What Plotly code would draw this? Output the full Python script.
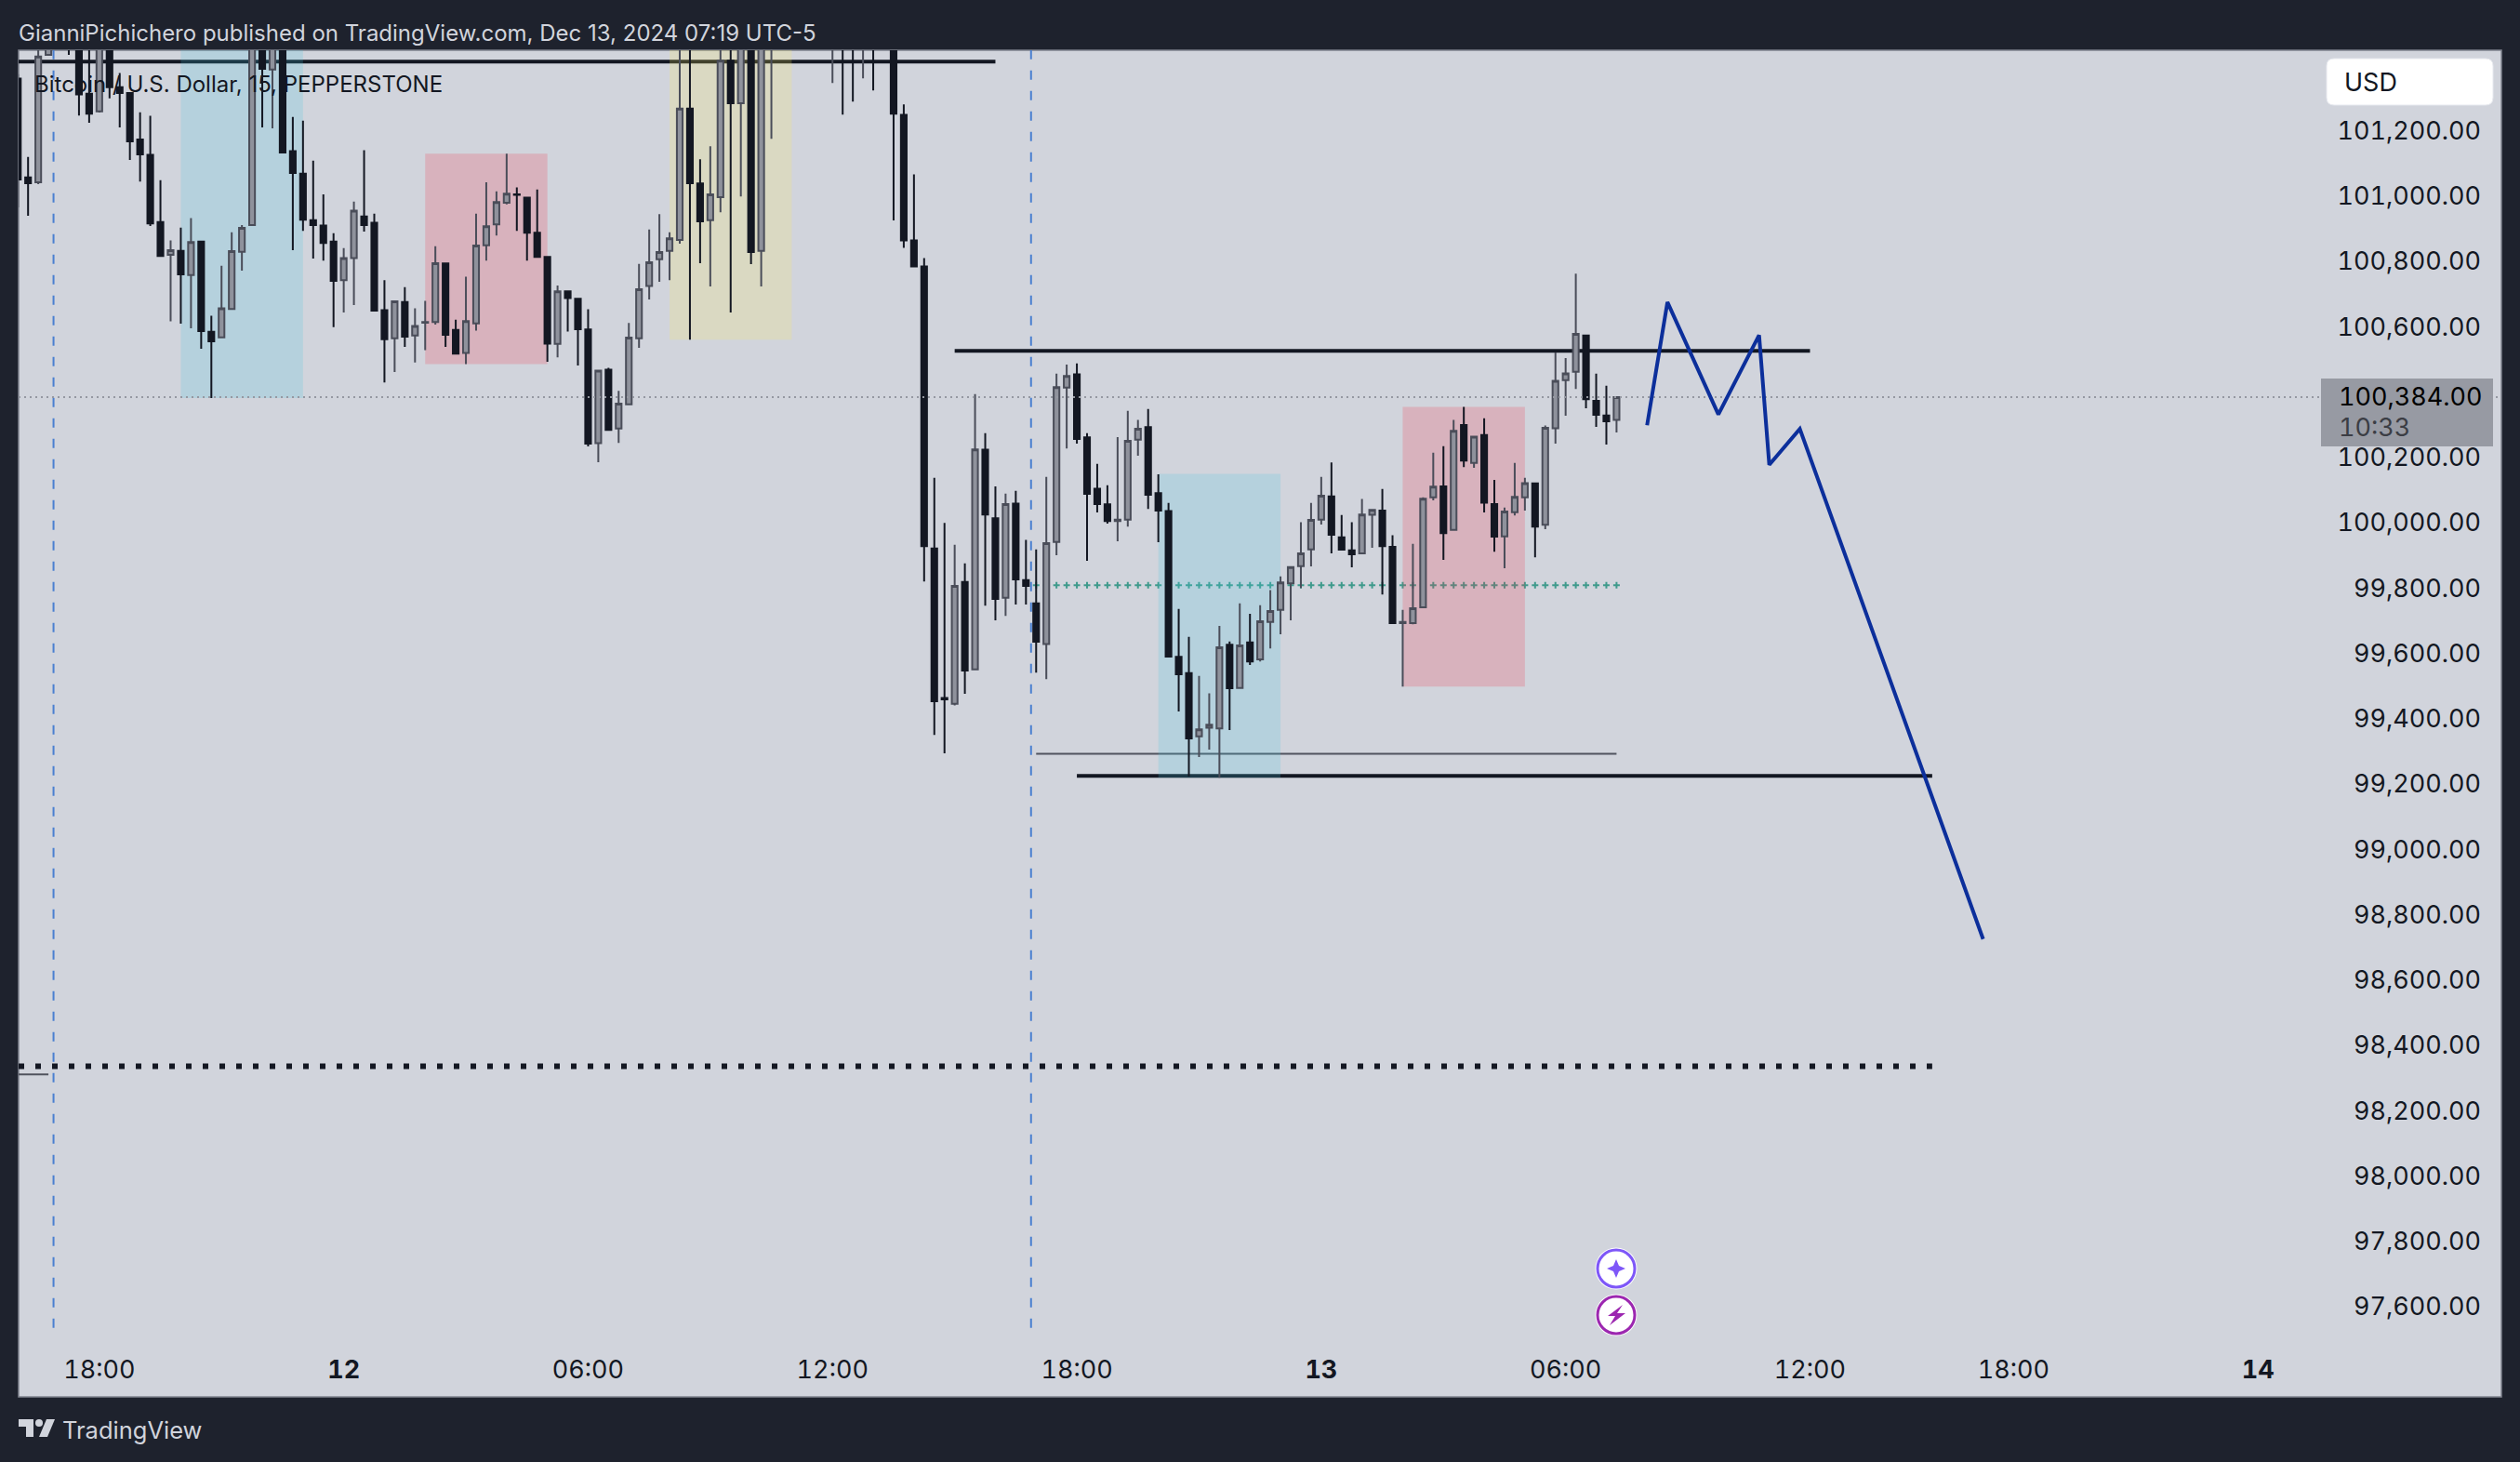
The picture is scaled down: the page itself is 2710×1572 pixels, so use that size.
import pandas as pd
import plotly.graph_objects as go

# 15 minute BTCUSD candles, first bar is Dec 11 16:00 (bars past the top of the pane are estimates)
open_ = [101359, 101057, 101042, 101432, 101600, 101540, 101520, 101313, 101259, 101500, 101333, 101315,
         101173, 101126, 100920, 100820, 100832, 100758, 100860, 100584, 100567, 100654, 100829, 100911,
         101520, 101387, 101510, 101137, 101068, 100926, 100909, 100860, 100742, 100810, 100937, 100918,
         100650, 100564, 100675, 100573, 100612, 100614, 100793, 100590, 100519, 100610, 100849, 100913,
         100979, 101005, 100995, 100887, 100813, 100547, 100708, 100685, 100591, 100243, 100468, 100288,
         100362, 100564, 100724, 100806, 100832, 100865, 101267, 101038, 100926, 100996, 101414, 101284,
         101520, 100832, 101500, 101600, 101640, 101600, 101660, 101620, 101500, 101580, 101480, 101460,
         101540, 101520, 101480, 101248, 100864, 100784, 99921, 99463, 99445, 99818, 99551, 100223,
         100013, 99770, 100058, 99824, 99753, 99628, 99941, 100413, 100454, 100261, 100104, 100056,
         100005, 100009, 100254, 100292, 100090, 100035, 99589, 99539, 99346, 99372, 99370, 99626,
         99494, 99633, 99581, 99696, 99733, 99814, 99867, 99918, 100009, 100080, 99955, 99915,
         99906, 100024, 100037, 99926, 99692, 99692, 99741, 100077, 100111, 99978, 100299, 100183,
         100268, 100057, 99958, 100032, 100077, 100120, 99993, 100289, 100436, 100462, 100573, 100373,
         100328, 100314]
high = [101373, 101119, 101470, 101560, 101640, 101580, 101560, 101470, 101520, 101540, 101376, 101316,
        101256, 101245, 101048, 100864, 100903, 100932, 100861, 100633, 100786, 100889, 100911, 101560,
        101560, 101560, 101540, 101242, 101230, 101108, 101005, 100886, 100840, 100983, 101140, 100946,
        100742, 100677, 100721, 100656, 100679, 100846, 100796, 100621, 100753, 100946, 101042, 101014,
        101129, 101026, 100996, 101020, 100814, 100726, 100709, 100686, 100653, 100468, 100474, 100403,
        100611, 100792, 100897, 100944, 100889, 101500, 101500, 101112, 101152, 101500, 101500, 101560,
        101560, 101600, 101620, 101680, 101700, 101720, 101760, 101700, 101640, 101640, 101600, 101560,
        101600, 101560, 101540, 101280, 101066, 100810, 100137, 99999, 99932, 99875, 100393, 100274,
        100111, 100089, 100097, 99947, 99918, 100140, 100456, 100484, 100487, 100274, 100180, 100114,
        100262, 100342, 100314, 100348, 100148, 100060, 99736, 99650, 99531, 99477, 99684, 99636,
        99753, 99721, 99747, 99793, 99835, 99867, 100001, 100060, 100140, 100184, 100023, 100001,
        100072, 100039, 100103, 99961, 99733, 99935, 100077, 100214, 100234, 100314, 100354, 100264,
        100319, 100131, 100046, 100183, 100137, 100123, 100297, 100521, 100504, 100762, 100574, 100456,
        100419, 100384]
low = [100965, 100939, 101036, 101430, 101520, 101432, 101246, 101224, 101255, 101299, 101210, 101110,
       101044, 100908, 100813, 100616, 100609, 100595, 100532, 100381, 100566, 100651, 100771, 100908,
       101210, 101207, 101130, 100834, 100893, 100808, 100802, 100598, 100643, 100666, 100891, 100648,
       100429, 100461, 100538, 100490, 100528, 100606, 100538, 100514, 100485, 100588, 100802, 100879,
       100974, 100893, 100802, 100813, 100492, 100506, 100585, 100481, 100233, 100185, 100284, 100244,
       100361, 100535, 100683, 100737, 100742, 100854, 100560, 100794, 100723, 100950, 100643, 100998,
       100791, 100723, 101175, 101520, 101560, 101540, 101600, 101500, 101346, 101249, 101289, 101360,
       101323, 101450, 100925, 100841, 100783, 99820, 99350, 99294, 99440, 99476, 99550, 99746,
       99701, 99714, 99749, 99749, 99541, 99521, 99900, 100227, 100242, 99883, 100031, 99997,
       99943, 99988, 100205, 100042, 99940, 99589, 99422, 99223, 99282, 99305, 99219, 99365,
       99493, 99564, 99575, 99615, 99658, 99701, 99800, 99866, 99994, 99906, 99917, 99863,
       99905, 99923, 99780, 99692, 99498, 99689, 99740, 100068, 99886, 99977, 100170, 100168,
       100031, 99911, 99860, 100022, 100037, 99894, 99980, 100242, 100327, 100409, 100350, 100293,
       100239, 100276]
close = [101050, 101039, 101427, 101520, 101530, 101460, 101311, 101252, 101500, 101333, 101315, 101167,
         101127, 100916, 100816, 100834, 100760, 100859, 100586, 100555, 100656, 100831, 100902, 101520,
         101389, 101500, 101133, 101070, 100927, 100911, 100856, 100740, 100810, 100955, 100911, 100649,
         100561, 100677, 100569, 100602, 100614, 100794, 100575, 100517, 100617, 100848, 100907, 100981,
         101007, 101003, 100887, 100813, 100548, 100708, 100687, 100592, 100242, 100465, 100284, 100364,
         100566, 100714, 100797, 100828, 100870, 101267, 101039, 100922, 101005, 101414, 101284, 101500,
         100828, 101500, 101580, 101640, 101600, 101660, 101620, 101560, 101580, 101480, 101460, 101540,
         101470, 101480, 101252, 100864, 100784, 99928, 99453, 99459, 99806, 99547, 100224, 100025,
         99766, 100057, 99826, 99806, 99635, 99937, 100415, 100449, 100256, 100088, 100057, 100005,
         100009, 100250, 100287, 100085, 100037, 99590, 99536, 99339, 99367, 99381, 99618, 99493,
         99624, 99575, 99698, 99729, 99817, 99864, 99906, 100008, 100082, 99963, 99917, 99903,
         100025, 100039, 99928, 99692, 99696, 99738, 100073, 100110, 99968, 100281, 100190, 100263,
         100061, 99957, 100034, 100079, 100121, 99988, 100290, 100434, 100457, 100578, 100378, 100330,
         100310, 100384]
times = pd.date_range("2024-12-11 16:00", periods=len(open_), freq="15min")

# axis ticks (the last two sit where TradingView put them on its future scale)
price_ticks = [101200, 101000, 100800, 100600, 100200, 100000, 99800, 99600, 99400, 99200, 99000,
               98800, 98600, 98400, 98200, 98000, 97800, 97600]
time_ticks = ["2024-12-11 18:00", "2024-12-12 00:00", "2024-12-12 06:00", "2024-12-12 12:00",
              "2024-12-12 18:00", "2024-12-13 00:00", "2024-12-13 06:00", "2024-12-13 12:00",
              "2024-12-13 17:00", "2024-12-13 23:00"]
time_labels = ["18:00", "<b>12</b>", "06:00", "12:00", "18:00", "<b>13</b>", "06:00", "12:00", "18:00", "<b>14</b>"]

# session boxes: start, end, low, high, colour
zone_start = ["2024-12-11 20:00", "2024-12-12 02:00", "2024-12-12 08:00", "2024-12-12 20:00", "2024-12-13 02:00"]
zone_end = ["2024-12-11 23:00", "2024-12-12 05:00", "2024-12-12 11:00", "2024-12-12 23:00", "2024-12-13 05:00"]
zone_low = [100381, 100485, 100560, 99219, 99498]
zone_high = [101700, 101129, 101700, 100149, 100354]
zone_color = ["rgba(72,200,225,0.2)", "rgba(245,45,65,0.2)", "rgba(255,240,90,0.2)",
              "rgba(72,200,225,0.2)", "rgba(245,45,65,0.2)"]

# drawn levels
left_edge = "2024-12-11 16:01:03"
right_edge = "2024-12-14 04:58:30"
top_level = 101411
resistance = 100526
support = 99225
range_low = 99292
liquidity = 98336
old_low = 98311
pivot = 99808
last_price = 100384
session_breaks = ["2024-12-11 16:52:30", "2024-12-12 16:52:30"]

# projected path
path_times = ["2024-12-13 08:00", "2024-12-13 08:30", "2024-12-13 09:45", "2024-12-13 10:45",
              "2024-12-13 11:00", "2024-12-13 11:45", "2024-12-13 16:15"]
path_prices = [100298, 100675, 100331, 100574, 100177, 100287, 98725]

W, H = 2710, 1572
L, R, T, B = 20, 2690, 54, 1430
y_range = [97528.6, 101446]
DARK = "#1e222d"
PANE = "#d1d4dc"
INK = "#131722"
FONT = "Inter"


def fx(p):
    return (p - L) / (R - L)


def fy(p):
    return (B - p) / (B - T)


def poly(points):
    return "M " + " L ".join(f"{fx(x)} {fy(y)}" for x, y in points) + " Z"


def rounded(x0, y0, x1, y1, r):
    x0, x1, y0, y1, rx, ry = fx(x0), fx(x1), fy(y0), fy(y1), r / (R - L), r / (B - T)
    return (f"M {x0 + rx} {y0} L {x1 - rx} {y0} Q {x1} {y0} {x1} {y0 - ry} L {x1} {y1 + ry} "
            f"Q {x1} {y1} {x1 - rx} {y1} L {x0 + rx} {y1} Q {x0} {y1} {x0} {y1 + ry} "
            f"L {x0} {y0 - ry} Q {x0} {y0} {x0 + rx} {y0} Z")


def circle(cx, cy, r, **kw):
    return dict(type="circle", xref="paper", yref="paper", x0=fx(cx - r), x1=fx(cx + r),
                y0=fy(cy + r), y1=fy(cy - r), **kw)


def level(x0, x1, y, color, width, dash="solid"):
    return go.Scatter(x=[x0, x1], y=[y, y], mode="lines", hoverinfo="skip",
                      line=dict(color=color, width=width, dash=dash))


fig = go.Figure()

# lower subplot: everything the session boxes tint
fig.add_trace(level(left_edge, "2024-12-12 16:00", top_level, INK, 4))
fig.add_trace(level("2024-12-12 15:00", "2024-12-13 12:00", resistance, INK, 4))
fig.add_trace(level("2024-12-12 18:00", "2024-12-13 15:00", support, INK, 4))
fig.add_trace(level("2024-12-12 17:00", "2024-12-13 07:15", range_low, "#50535e", 2))
fig.add_trace(level(left_edge, "2024-12-11 16:45", old_low, "#50535e", 2))
fig.add_trace(level(left_edge, "2024-12-13 15:00", liquidity, INK, 6, "6px,12px"))
for t in session_breaks:
    fig.add_trace(go.Scatter(x=[t, t], y=[97535, y_range[1]], mode="lines", hoverinfo="skip",
                             line=dict(color="#4a7fd0", width=2, dash="10px,12px")))
pivot_times = times[times >= "2024-12-12 17:00"]
fig.add_trace(go.Scatter(x=pivot_times, y=[pivot] * len(pivot_times), mode="markers", hoverinfo="skip",
                         marker=dict(symbol="cross-thin", size=5, line=dict(color="#3f9a8c", width=2))))

# upper subplot: boxes, candles, projected path
for s, e, lo, hi, c in zip(zone_start, zone_end, zone_low, zone_high, zone_color):
    s, e = pd.Timestamp(s), pd.Timestamp(e)
    fig.add_trace(go.Bar(x=[s + (e - s) / 2], y=[hi - lo], base=[lo], width=[(e - s).total_seconds() * 1000],
                         marker=dict(color=c, line=dict(width=0)), yaxis="y2", hoverinfo="skip"))
fig.add_trace(go.Candlestick(
    x=times, open=open_, high=high, low=low, close=close, yaxis="y2", whiskerwidth=0, hoverinfo="skip",
    increasing=dict(fillcolor="#8f929c", line=dict(color="#4a4d59", width=2)),
    decreasing=dict(fillcolor=INK, line=dict(color=INK, width=2)),
))
fig.add_trace(level(left_edge, right_edge, last_price, "#9598a1", 2, "2px,4px").update(yaxis="y2"))
fig.add_trace(go.Scatter(x=path_times, y=path_prices, mode="lines", yaxis="y2", hoverinfo="skip",
                         line=dict(color="#0c2f9b", width=4)))

shapes = [
    dict(type="rect", xref="paper", yref="paper", x0=0, x1=1, y0=fy(1502), y1=1, layer="below",
         fillcolor=PANE, line=dict(color="#7f828d", width=1.5)),
    dict(type="rect", xref="paper", yref="paper", x0=fx(2496), x1=fx(2681), y0=fy(480), y1=fy(407),
         fillcolor="#979aa3", line=dict(width=0)),
    dict(type="path", xref="paper", yref="paper", path=rounded(2502, 63, 2681, 113, 8),
         fillcolor="white", line=dict(color="#e6e8ee", width=1)),
    # TradingView logo
    dict(type="path", xref="paper", yref="paper", fillcolor=PANE, line=dict(width=0),
         path=poly([(20, 1526), (36, 1526), (36, 1545), (28, 1545), (28, 1534), (20, 1534)])),
    circle(42, 1530, 4, fillcolor=PANE, line=dict(width=0)),
    dict(type="path", xref="paper", yref="paper", fillcolor=PANE, line=dict(width=0),
         path=poly([(50, 1526), (59, 1526), (51, 1545), (42, 1545)])),
    # event icons
    circle(1738, 1364, 22.5, fillcolor="white", line=dict(width=0)),
    circle(1738, 1364, 20, fillcolor="white", line=dict(color="#7e57f8", width=3)),
    circle(1738, 1414, 22.5, fillcolor="white", line=dict(width=0)),
    circle(1738, 1414, 20, fillcolor="white", line=dict(color="#9c27b0", width=3)),
    dict(type="path", xref="paper", yref="paper", fillcolor="#7e57f8", line=dict(width=0),
         path=poly([(1738, 1354), (1741, 1361), (1748, 1364), (1741, 1367), (1738, 1374),
                    (1735, 1367), (1728, 1364), (1735, 1361)])),
    dict(type="path", xref="paper", yref="paper", fillcolor="#9c27b0", line=dict(width=0),
         path=poly([(1745, 1403), (1729, 1415), (1737, 1415), (1731, 1425), (1748, 1412), (1739, 1412)])),
]


def note(text, x, y, size, color):
    return dict(text=text, xref="paper", yref="paper", x=fx(x), y=fy(y), xanchor="left", yanchor="middle",
                align="left", showarrow=False, borderpad=0, borderwidth=0,
                font=dict(family=FONT, size=size, color=color))


annotations = [
    note("GianniPichichero published on TradingView.com, Dec 13, 2024 07:19 UTC-5", 20, 35, 24, PANE),
    note("Bitcoin / U.S. Dollar, 15, PEPPERSTONE", 37, 90, 24, INK),
    note("USD", 2521, 88, 27, INK),
    note("100,384.00", 2515, 426, 27, "#000000"),
    note("10:33", 2515, 459, 27, "#3b3d44"),
    note("TradingView", 67, 1537, 25.5, PANE),
]

fig.update_layout(
    width=W, height=H, showlegend=False, barmode="overlay",
    margin=dict(l=L, r=W - R, t=T, b=H - B, pad=0, autoexpand=False),
    paper_bgcolor=DARK, plot_bgcolor="rgba(0,0,0,0)",
    boxgap=0.3, boxgroupgap=0.2,
    font=dict(family=FONT, color=INK),
    shapes=shapes, annotations=annotations,
    xaxis=dict(type="date", range=[left_edge, right_edge], rangeslider=dict(visible=False),
               tickmode="array", tickvals=time_ticks, ticktext=time_labels, tickfont=dict(size=27, color=INK),
               ticks="", ticklabelstandoff=24, showgrid=False, zeroline=False, showline=False),
    yaxis=dict(range=y_range, side="right", ticklabelposition="inside", tickmode="array", tickvals=price_ticks,
               tickformat=",.2f", tickfont=dict(size=27, color=INK), ticks="", ticklabelstandoff=19,
               showgrid=False, zeroline=False, showline=False),
    yaxis2=dict(range=y_range, overlaying="y", side="right", visible=False),
)

# page margin off, tabular digits on the scales like TradingView
page_style = """
document.body.style.margin = '0';
var s = document.createElement('style');
s.textContent = '.xtick text, .ytick text, .annotation[data-index="3"] text, .annotation[data-index="4"] text'
    + ' {font-feature-settings: "tnum";}';
document.head.appendChild(s);
"""
fig.write_html("out.html", post_script=page_style, config=dict(displayModeBar=False))
